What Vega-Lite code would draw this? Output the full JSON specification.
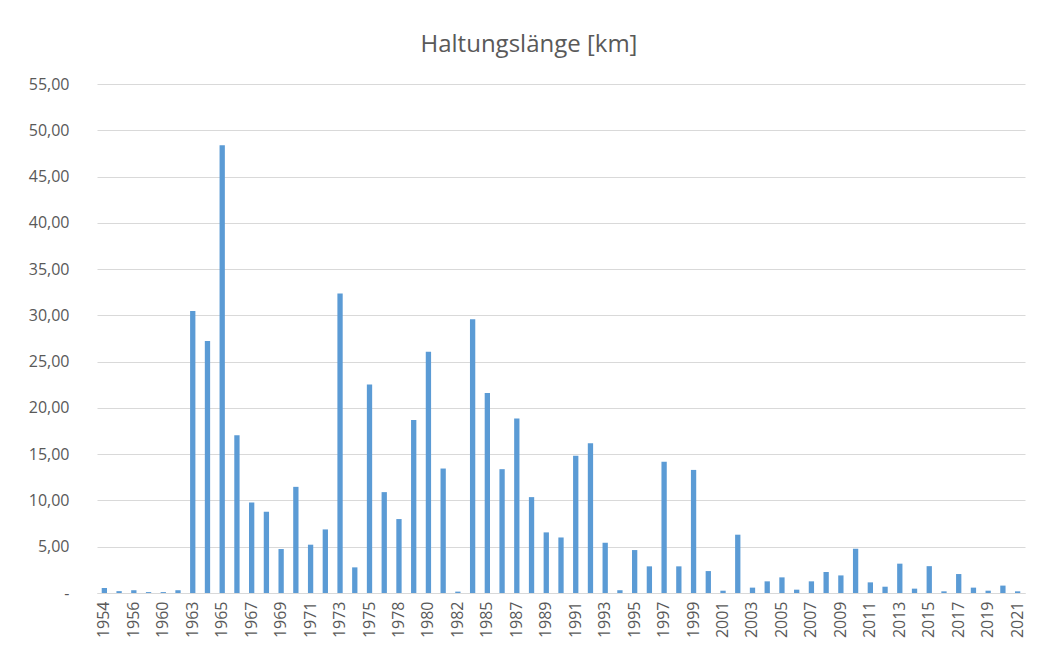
{
  "$schema": "https://vega.github.io/schema/vega-lite/v6.json",
  "width": 928,
  "height": 509,
  "autosize": {"type": "none"},
  "padding": {"left": 97, "top": 84, "right": 13, "bottom": 56},
  "background": "white",
  "title": {
    "text": "Haltungslänge [km]",
    "font": "Open Sans",
    "fontSize": 24,
    "fontWeight": "normal",
    "color": "#595959",
    "anchor": "middle",
    "dx": -32,
    "offset": 19
  },
  "data": {
    "values": [
      {"jahr": "1954", "km": 0.54},
      {"jahr": "1955", "km": 0.2},
      {"jahr": "1956", "km": 0.3},
      {"jahr": "1958", "km": 0.1},
      {"jahr": "1960", "km": 0.1},
      {"jahr": "1962", "km": 0.3},
      {"jahr": "1963", "km": 30.47},
      {"jahr": "1964", "km": 27.23},
      {"jahr": "1965", "km": 48.38},
      {"jahr": "1966", "km": 17.05},
      {"jahr": "1967", "km": 9.78},
      {"jahr": "1968", "km": 8.78},
      {"jahr": "1969", "km": 4.75},
      {"jahr": "1970", "km": 11.47},
      {"jahr": "1971", "km": 5.22},
      {"jahr": "1972", "km": 6.87},
      {"jahr": "1973", "km": 32.37},
      {"jahr": "1974", "km": 2.77},
      {"jahr": "1975", "km": 22.52},
      {"jahr": "1976", "km": 10.9},
      {"jahr": "1978", "km": 7.99},
      {"jahr": "1979", "km": 18.7},
      {"jahr": "1980", "km": 26.08},
      {"jahr": "1981", "km": 13.45},
      {"jahr": "1982", "km": 0.15},
      {"jahr": "1984", "km": 29.57},
      {"jahr": "1985", "km": 21.62},
      {"jahr": "1986", "km": 13.38},
      {"jahr": "1987", "km": 18.85},
      {"jahr": "1988", "km": 10.36},
      {"jahr": "1989", "km": 6.55},
      {"jahr": "1990", "km": 6.0},
      {"jahr": "1991", "km": 14.82},
      {"jahr": "1992", "km": 16.19},
      {"jahr": "1993", "km": 5.43},
      {"jahr": "1994", "km": 0.3},
      {"jahr": "1995", "km": 4.64},
      {"jahr": "1996", "km": 2.88},
      {"jahr": "1997", "km": 14.17},
      {"jahr": "1998", "km": 2.88},
      {"jahr": "1999", "km": 13.3},
      {"jahr": "2000", "km": 2.37},
      {"jahr": "2001", "km": 0.25},
      {"jahr": "2002", "km": 6.3},
      {"jahr": "2003", "km": 0.58},
      {"jahr": "2004", "km": 1.26},
      {"jahr": "2005", "km": 1.69},
      {"jahr": "2006", "km": 0.36},
      {"jahr": "2007", "km": 1.26},
      {"jahr": "2008", "km": 2.27},
      {"jahr": "2009", "km": 1.9},
      {"jahr": "2010", "km": 4.78},
      {"jahr": "2011", "km": 1.15},
      {"jahr": "2012", "km": 0.68},
      {"jahr": "2013", "km": 3.17},
      {"jahr": "2014", "km": 0.47},
      {"jahr": "2015", "km": 2.9},
      {"jahr": "2016", "km": 0.18},
      {"jahr": "2017", "km": 2.05},
      {"jahr": "2018", "km": 0.58},
      {"jahr": "2019", "km": 0.25},
      {"jahr": "2020", "km": 0.8},
      {"jahr": "2021", "km": 0.18}
    ]
  },
  "mark": {"type": "bar", "color": "#5B9BD5"},
  "encoding": {
    "x": {
      "field": "jahr",
      "type": "ordinal",
      "sort": null,
      "scale": {"paddingInner": 0.64},
      "axis": {
        "title": null,
        "values": ["1954","1956","1960","1963","1965","1967","1969","1971","1973","1975","1978","1980","1982","1985","1987","1989","1991","1993","1995","1997","1999","2001","2003","2005","2007","2009","2011","2013","2015","2017","2019","2021"],
        "labelAngle": -90,
        "labelFont": "Open Sans",
        "labelFontSize": 16,
        "labelColor": "#595959",
        "labelPadding": 8,
        "ticks": false,
        "domainColor": "#d9d9d9",
        "domainWidth": 1,
        "grid": false
      }
    },
    "y": {
      "field": "km",
      "type": "quantitative",
      "scale": {"domain": [0, 55], "nice": false},
      "axis": {
        "title": null,
        "values": [0,5,10,15,20,25,30,35,40,45,50,55],
        "labelExpr": "datum.value == 0 ? '-' : replace(format(datum.value, '.2f'), '.', ',')",
        "labelFont": "Open Sans",
        "labelFontSize": 16,
        "labelColor": "#595959",
        "labelPadding": 28,
        "ticks": false,
        "domain": false,
        "grid": true,
        "gridColor": "#d9d9d9",
        "gridWidth": 1
      }
    }
  },
  "config": {"view": {"stroke": null}}
}
